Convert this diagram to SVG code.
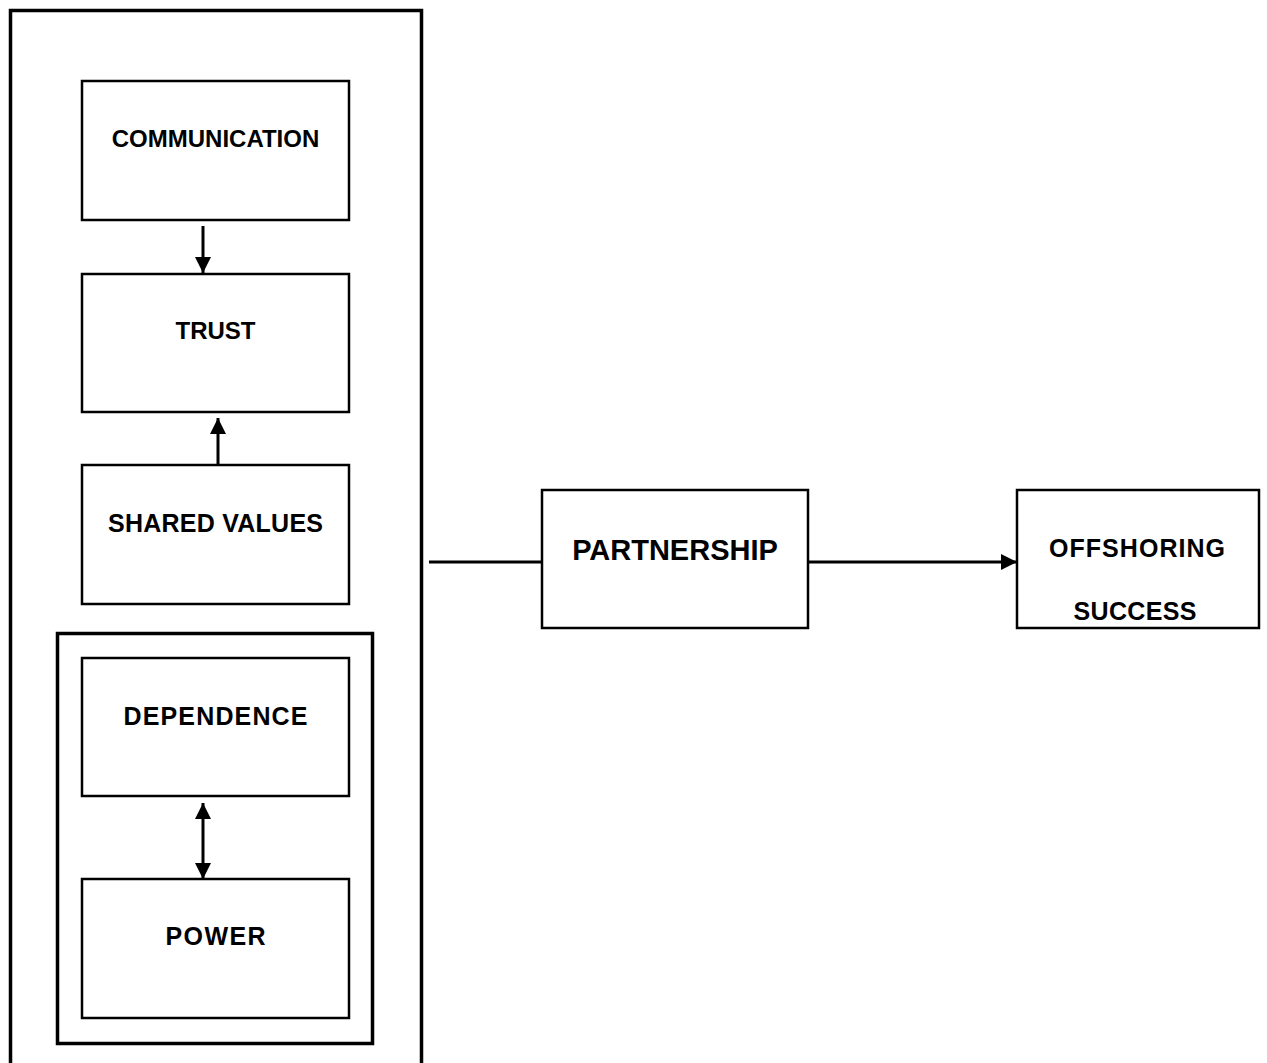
<svg xmlns="http://www.w3.org/2000/svg" width="1267" height="1063" viewBox="0 0 1267 1063">
<style>
.box{fill:#fff;stroke:#000;stroke-width:2.5}
.frame{fill:none;stroke:#000;stroke-width:3.5}
.lbl{font-family:"Liberation Sans",Arial,sans-serif;font-weight:bold;font-size:24px;text-anchor:middle;fill:#000}
.mid{font-size:25px}
.big{font-size:29px}
.conn{stroke:#000;stroke-width:3;fill:none}
</style>
<defs>
<marker id="ah" viewBox="0 0 16 16" refX="16" refY="8" markerWidth="16" markerHeight="16" markerUnits="userSpaceOnUse" orient="auto-start-reverse">
<path d="M0,0 L16,8 L0,16 Z" fill="#000"/>
</marker>
</defs>
<rect id="outer-frame" class="frame" x="10.5" y="10.5" width="411" height="1070"/>
<rect id="inner-frame" class="frame" x="57.5" y="633.5" width="315" height="410"/>
<g id="communication"><rect class="box" x="82" y="81" width="267" height="139"/><text class="lbl" x="215.5" y="147">COMMUNICATION</text></g>
<g id="trust"><rect class="box" x="82" y="274" width="267" height="138"/><text class="lbl" x="215.5" y="339">TRUST</text></g>
<g id="shared-values"><rect class="box" x="82" y="465" width="267" height="139"/><text class="lbl mid" x="215.5" y="532" textLength="215" lengthAdjust="spacing">SHARED VALUES</text></g>
<g id="dependence"><rect class="box" x="82" y="658" width="267" height="138"/><text class="lbl mid" x="215.5" y="725" textLength="184" lengthAdjust="spacing">DEPENDENCE</text></g>
<g id="power"><rect class="box" x="82" y="879" width="267" height="139"/><text class="lbl mid" x="215.5" y="945" textLength="100" lengthAdjust="spacing">POWER</text></g>
<g id="partnership"><rect class="box" x="542" y="490" width="266" height="138"/><text class="lbl big" x="675" y="560">PARTNERSHIP</text></g>
<g id="offshoring-success"><rect class="box" x="1017" y="490" width="242" height="138"/><text class="lbl mid" x="1137" y="557" textLength="176" lengthAdjust="spacing">OFFSHORING</text><text class="lbl mid" x="1135" y="620" textLength="123" lengthAdjust="spacing">SUCCESS</text></g>
<g id="connectors">
<line class="conn" x1="203" y1="226" x2="203" y2="273" marker-end="url(#ah)"/>
<line class="conn" x1="218" y1="465" x2="218" y2="418" marker-end="url(#ah)"/>
<line class="conn" x1="203" y1="803" x2="203" y2="879" marker-start="url(#ah)" marker-end="url(#ah)"/>
<line class="conn" x1="429" y1="562" x2="542" y2="562"/>
<line class="conn" x1="808" y1="562" x2="1017" y2="562" marker-end="url(#ah)"/>
</g>
</svg>
